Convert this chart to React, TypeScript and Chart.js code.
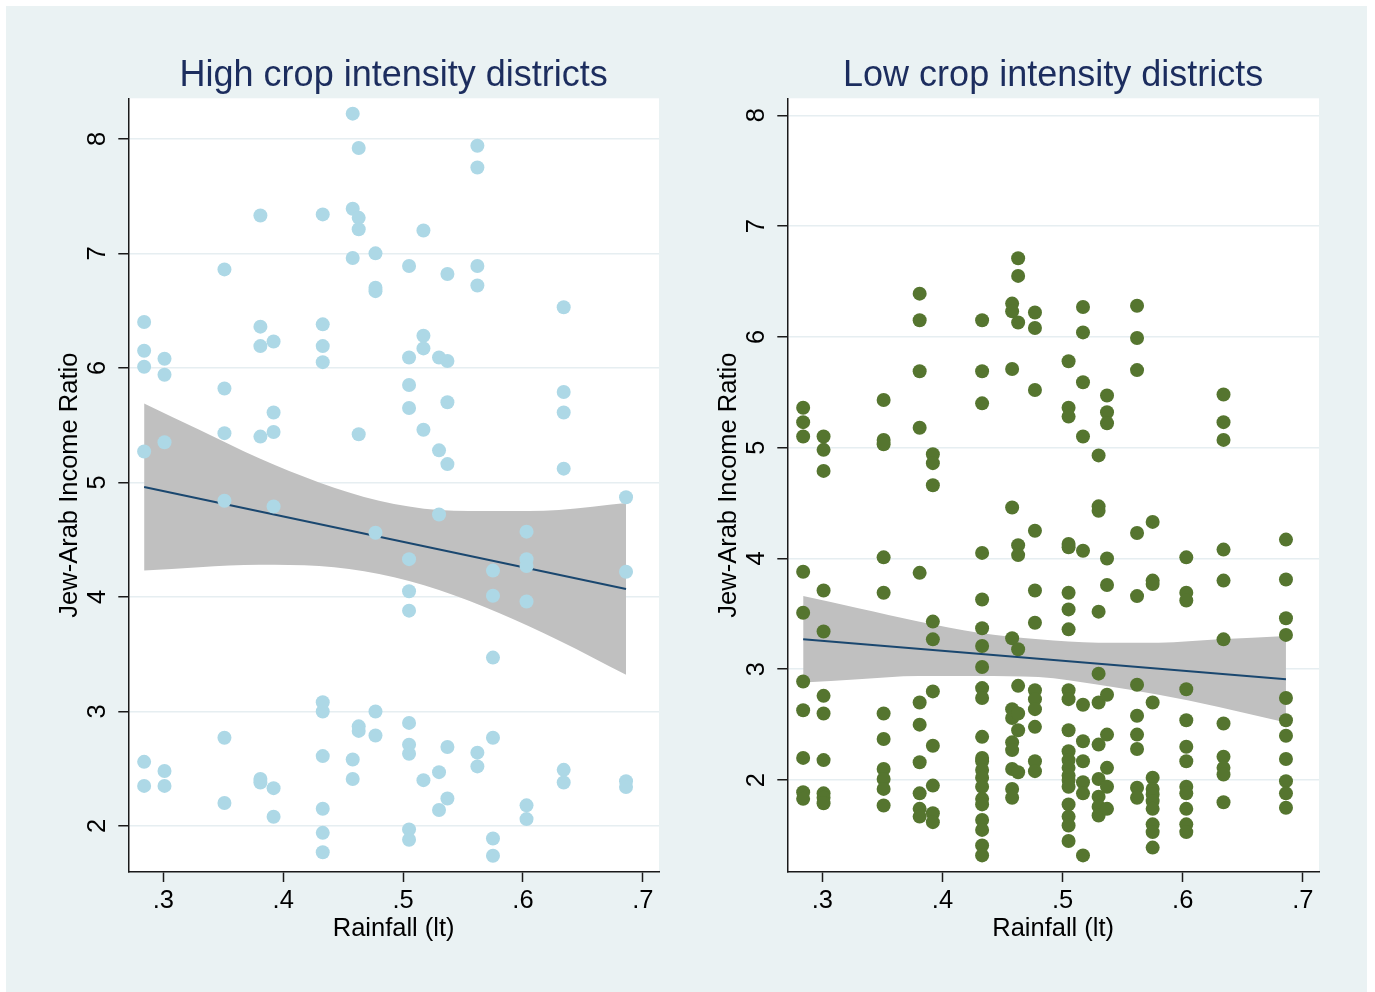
import React, { useEffect, useRef } from 'react';
import { Chart, registerables } from 'chart.js';

Chart.register(...registerables);

// ---------------- data ----------------
const rainfallLevels = [0.284, 0.301, 0.351, 0.381, 0.392, 0.433, 0.458, 0.463, 0.477, 0.505, 0.517, 0.53, 0.537, 0.562, 0.575, 0.603, 0.634, 0.686];

const highRatioByRain = [
  [6.40, 6.15, 6.01, 5.27, 2.56, 2.35],
  [6.08, 5.94, 5.35, 2.48, 2.35],
  [6.86, 5.82, 5.43, 4.84, 2.77, 2.20],
  [7.33, 6.36, 6.19, 5.40, 2.41, 2.38],
  [6.23, 5.61, 5.44, 4.79, 2.33, 2.08],
  [7.34, 6.38, 6.19, 6.05, 3.08, 3.00, 2.61, 2.15, 1.94, 1.77],
  [8.22, 7.39, 6.96, 2.58, 2.41],
  [7.92, 7.31, 7.21, 5.42, 2.87, 2.83],
  [7.00, 6.70, 6.67, 4.56, 3.00, 2.79],
  [6.89, 6.09, 5.85, 5.65, 4.33, 4.05, 3.88, 2.90, 2.71, 2.63, 1.97, 1.88],
  [7.20, 6.28, 6.17, 5.46, 2.40],
  [6.09, 5.28, 4.72, 2.47, 2.14],
  [6.82, 6.06, 5.70, 5.16, 2.69, 2.24],
  [7.94, 7.75, 6.89, 6.72, 2.64, 2.52],
  [4.23, 4.01, 3.47, 2.77, 1.89, 1.74],
  [4.57, 4.33, 4.27, 3.96, 2.18, 2.06],
  [6.53, 5.79, 5.61, 5.12, 2.49, 2.38],
  [4.87, 4.22, 2.39, 2.34],
];

const lowRatioByRain = [
  [5.36, 5.23, 5.10, 3.88, 3.51, 2.89, 2.63, 2.20, 1.89, 1.83],
  [5.10, 4.98, 4.79, 3.71, 3.34, 2.76, 2.60, 2.18, 1.88, 1.84, 1.79],
  [5.43, 5.07, 5.03, 4.01, 3.69, 2.60, 2.37, 2.10, 2.01, 1.92, 1.77],
  [6.39, 6.15, 5.69, 5.18, 3.87, 2.70, 2.50, 2.16, 1.88, 1.74, 1.67],
  [4.94, 4.86, 4.66, 3.43, 3.27, 2.80, 2.31, 1.95, 1.70, 1.62],
  [6.15, 5.69, 5.40, 4.05, 3.63, 3.37, 3.21, 3.02, 2.83, 2.74, 2.39, 2.20, 2.17, 2.09, 2.02, 1.94, 1.83, 1.78, 1.64, 1.55, 1.41, 1.32],
  [6.30, 6.23, 5.71, 4.46, 3.28, 2.64, 2.56, 2.34, 2.27, 2.10, 1.92, 1.84],
  [6.71, 6.55, 6.13, 4.12, 4.03, 3.18, 2.85, 2.60, 2.45, 2.07],
  [6.22, 6.08, 5.52, 4.25, 3.71, 3.42, 2.81, 2.73, 2.64, 2.48, 2.17, 2.08],
  [5.78, 5.36, 5.28, 4.13, 4.10, 3.69, 3.54, 3.36, 2.81, 2.73, 2.45, 2.26, 2.18, 2.11, 2.04, 2.00, 1.94, 1.78, 1.67, 1.59, 1.45],
  [6.27, 6.04, 5.59, 5.10, 4.07, 2.68, 2.35, 2.17, 1.98, 1.88, 1.32],
  [4.93, 4.47, 4.43, 3.52, 2.96, 2.70, 2.32, 2.01, 1.85, 1.76, 1.68],
  [5.47, 5.32, 5.22, 4.00, 3.76, 2.77, 2.41, 2.11, 1.94, 1.74],
  [6.28, 5.99, 5.70, 4.23, 3.66, 2.86, 2.58, 2.41, 2.28, 1.93, 1.84],
  [4.33, 3.80, 3.77, 2.70, 2.02, 1.92, 1.87, 1.81, 1.74, 1.60, 1.53, 1.39],
  [4.01, 3.69, 3.62, 2.82, 2.54, 2.30, 2.17, 1.94, 1.88, 1.74, 1.60, 1.53],
  [5.48, 5.23, 5.07, 4.08, 3.80, 3.27, 2.51, 2.21, 2.11, 2.05, 1.80],
  [4.17, 3.81, 3.46, 3.31, 2.74, 2.54, 2.40, 2.19, 1.99, 1.88, 1.75],
];

// fitted line and 95% CI band
const fitRain = [0.284, 0.686];
const highFit = [4.96, 4.07];
const lowFit = [3.27, 2.91];

const bandRain = [0.284, 0.33, 0.38, 0.43, 0.48, 0.53, 0.58, 0.63, 0.686];
const highUpper = [5.69, 5.46, 5.21, 5.00, 4.84, 4.76, 4.75, 4.76, 4.82];
const highLower = [4.23, 4.26, 4.28, 4.27, 4.20, 4.06, 3.86, 3.62, 3.32];
const lowUpper = [3.66, 3.55, 3.43, 3.33, 3.27, 3.24, 3.24, 3.27, 3.30];
const lowLower = [2.88, 2.91, 2.94, 2.94, 2.93, 2.86, 2.77, 2.66, 2.52];

const xTickValues = [0.3, 0.4, 0.5, 0.6, 0.7];
const xTickLabels = ['.3', '.4', '.5', '.6', '.7'];
const yTickValues = [2, 3, 4, 5, 6, 7, 8];
const yTickLabels = ['2', '3', '4', '5', '6', '7', '8'];

// ---------------- styling ----------------
const FONT = '"Liberation Sans", Arial, Helvetica, sans-serif';
const BG = '#eaf2f3';
const TITLE_COLOR = '#1c2d5e';
const AXIS_COLOR = '#1a1a1a';
const GRID_COLOR = '#e6eef1';
const BAND_COLOR = '#c0c0c0';
const FIT_COLOR = '#1a476f';

const plotBg = {
  id: 'plotBg',
  beforeDraw(chart: any) {
    const { ctx, chartArea: a } = chart;
    ctx.save();
    ctx.fillStyle = '#ffffff';
    ctx.fillRect(a.left, a.top, a.right - a.left, a.bottom - a.top);
    ctx.restore();
  },
};

type PanelProps = {
  title: string;
  ratios: number[][];
  fit: number[];
  upper: number[];
  lower: number[];
  color: string;
  width: number;
  yAxisWidth: number;
  yTitlePad: number;
  rightPad: number;
  yMin: number;
  yMax: number;
};

function Panel(p: PanelProps) {
  const ref = useRef<HTMLCanvasElement>(null);
  useEffect(() => {
    if (!ref.current) return;
    const points: { x: number; y: number }[] = [];
    rainfallLevels.forEach((r, i) => p.ratios[i].forEach((v) => points.push({ x: r, y: v })));
    const fitPts = fitRain.map((x, i) => ({ x, y: p.fit[i] }));
    const upPts = bandRain.map((x, i) => ({ x, y: p.upper[i] }));
    const loPts = bandRain.map((x, i) => ({ x, y: p.lower[i] }));
    const axisFont = { family: FONT, size: 25.5 };

    const chart = new Chart(ref.current, {
      type: 'scatter',
      data: {
        datasets: [
          {
            type: 'scatter',
            data: points,
            backgroundColor: p.color,
            pointBackgroundColor: p.color,
            pointBorderWidth: 0,
            pointRadius: 7,
            order: 0,
          } as any,
          {
            type: 'line',
            data: fitPts,
            borderColor: FIT_COLOR,
            borderWidth: 2,
            pointRadius: 0,
            fill: false,
            order: 1,
          } as any,
          {
            type: 'line',
            data: upPts,
            borderColor: 'rgba(0,0,0,0)',
            borderWidth: 1,
            pointRadius: 0,
            backgroundColor: BAND_COLOR,
            fill: '+1',
            cubicInterpolationMode: 'monotone',
            order: 2,
          } as any,
          {
            type: 'line',
            data: loPts,
            borderColor: 'rgba(0,0,0,0)',
            borderWidth: 1,
            pointRadius: 0,
            fill: false,
            cubicInterpolationMode: 'monotone',
            order: 3,
          } as any,
        ],
      },
      options: {
        responsive: false,
        animation: false,
        events: [],
        layout: { padding: { left: 0, right: p.rightPad, top: 0, bottom: 40 } },
        plugins: {
          legend: { display: false },
          tooltip: { enabled: false },
          title: {
            display: true,
            text: p.title,
            color: TITLE_COLOR,
            font: { family: FONT, size: 36, weight: 'normal' },
            padding: { top: 48.4, bottom: 0.7 },
            fullSize: false,
          },
        },
        scales: {
          x: {
            type: 'linear',
            min: 0.2708,
            max: 0.7135,
            afterBuildTicks: (s: any) => {
              s.ticks = xTickValues.map((v) => ({ value: v }));
            },
            afterFit: (s: any) => {
              s.height = 80;
            },
            ticks: {
              autoSkip: false,
              maxRotation: 0,
              minRotation: 0,
              padding: 4,
              color: '#000',
              font: axisFont,
              callback: (_v: any, i: number) => xTickLabels[i],
            },
            grid: {
              drawOnChartArea: false,
              drawTicks: true,
              tickLength: 10,
              tickColor: AXIS_COLOR,
              tickWidth: 1.5,
            },
            border: { display: true, color: AXIS_COLOR, width: 1.5 },
            title: {
              display: true,
              text: 'Rainfall (lt)',
              color: '#000',
              font: axisFont,
              padding: { top: 0, bottom: 7.5 },
            },
          },
          y: {
            type: 'linear',
            min: p.yMin,
            max: p.yMax,
            afterBuildTicks: (s: any) => {
              s.ticks = yTickValues.map((v) => ({ value: v }));
            },
            afterFit: (s: any) => {
              s.width = p.yAxisWidth;
            },
            ticks: {
              autoSkip: false,
              minRotation: 90,
              maxRotation: 90,
              crossAlign: 'center',
              padding: 13,
              color: '#000',
              font: axisFont,
              callback: (_v: any, i: number) => yTickLabels[i],
            },
            grid: {
              color: GRID_COLOR,
              lineWidth: 1.5,
              drawTicks: true,
              tickLength: 10,
              tickColor: AXIS_COLOR,
              tickWidth: 1.5,
            },
            border: { display: true, color: AXIS_COLOR, width: 1.5 },
            title: {
              display: true,
              text: 'Jew-Arab Income Ratio',
              color: '#000',
              font: axisFont,
              padding: { top: p.yTitlePad, bottom: 0 },
            },
          },
        },
      } as any,
      plugins: [plotBg],
    });
    return () => chart.destroy();
  }, []);
  return (
    <canvas
      ref={ref}
      width={p.width}
      height={986}
      style={{ display: 'block', width: p.width, height: 986 }}
    />
  );
}

export default function App() {
  return (
    <div
      style={{
        position: 'absolute',
        left: 6,
        top: 6,
        width: 1361,
        height: 986,
        background: BG,
        display: 'flex',
      }}
    >
      <Panel
        title="High crop intensity districts"
        ratios={highRatioByRain}
        fit={highFit}
        upper={highUpper}
        lower={highLower}
        color="#add8e6"
        width={684}
        yAxisWidth={122.3}
        yTitlePad={48.7}
        rightPad={31}
        yMin={1.598}
        yMax={8.354}
      />
      <Panel
        title="Low crop intensity districts"
        ratios={lowRatioByRain}
        fit={lowFit}
        upper={lowUpper}
        lower={lowLower}
        color="#55752f"
        width={677}
        yAxisWidth={97.3}
        yTitlePad={23.7}
        rightPad={48}
        yMin={1.17}
        yMax={8.153}
      />
    </div>
  );
}
